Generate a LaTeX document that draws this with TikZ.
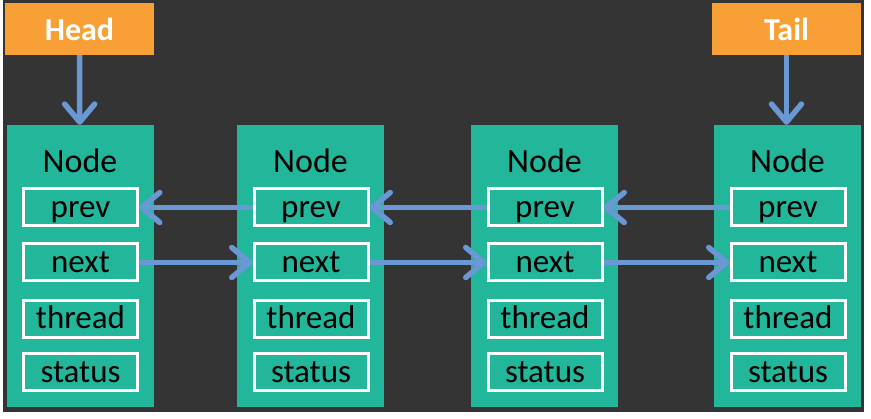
\documentclass[tikz,border=0pt]{standalone}
\usepackage{xcolor}
\usepackage{fontspec}
\setmainfont{Carlito}
\usepackage{tikz}
\usetikzlibrary{positioning, arrows.meta}

\definecolor{panelgray}{HTML}{343434}
\definecolor{nodeteal}{HTML}{22B79A}
\definecolor{ptrorange}{HTML}{F8A035}
\definecolor{linkblue}{HTML}{6A98D4}

\begin{document}
\begin{tikzpicture}[
    x=1pt, y=-1pt,
    lnode/.style={fill=nodeteal, minimum width=147pt, minimum height=282pt, inner sep=0pt},
    ltitle/.style={font=\fontsize{34}{34}\selectfont, text=black, inner sep=0pt},
    field/.style={draw=white, line width=3pt, fill=nodeteal, minimum width=114pt, minimum height=37pt, inner sep=0pt, font=\fontsize{33}{33}\selectfont, text height=22pt, text depth=2pt},
    ptr/.style={fill=ptrorange, minimum width=149pt, minimum height=52pt, inner sep=0pt, font=\bfseries\fontsize{32}{32}\selectfont, text=white},
    link/.style={draw=linkblue, line width=5.5pt, -{Straight Barb[length=18pt, width=30pt, line cap=round, line join=round]}}
]
\useasboundingbox (0,0) rectangle (871,419);
\fill[white] (0,0) rectangle (871,419);
\fill[panelgray] (3,0) rectangle (864,412);

% pointers
\node[ptr] (head) at (79.5, 29) {Head};
\node[ptr] (tail) at (786.5, 29) {Tail};

% list nodes
\node[lnode] (n1) at (80, 266) {};
\node[ltitle] (n1l) at (80, 161) {Node};
\node[field] (n1p) at (80.5, 207.5) {prev};
\node[field] (n1n) at (80.5, 262.5) {next};
\node[field] (n1t) at (80.5, 319) {thread};
\node[field] (n1s) at (80.5, 372.5) {status};

\node[lnode] (n2) at (310.5, 266) {};
\node[ltitle] (n2l) at (310.5, 161) {Node};
\node[field] (n2p) at (311, 207.5) {prev};
\node[field] (n2n) at (311, 262.5) {next};
\node[field] (n2t) at (311, 319) {thread};
\node[field] (n2s) at (311, 372.5) {status};

\node[lnode] (n3) at (544.5, 266) {};
\node[ltitle] (n3l) at (544.5, 161) {Node};
\node[field] (n3p) at (545, 207.5) {prev};
\node[field] (n3n) at (545, 262.5) {next};
\node[field] (n3t) at (545, 319) {thread};
\node[field] (n3s) at (545, 372.5) {status};

\node[lnode] (n4) at (787.5, 266) {};
\node[ltitle] (n4l) at (787.5, 161) {Node};
\node[field] (n4p) at (788, 207.5) {prev};
\node[field] (n4n) at (788, 262.5) {next};
\node[field] (n4t) at (788, 319) {thread};
\node[field] (n4s) at (788, 372.5) {status};

% links
\draw[link] (head) -- (n1);
\draw[link] (tail) -- (n4.north -| tail);
\draw[link] (n2p) -- (n1p);
\draw[link] (n3p) -- (n2p);
\draw[link] (n4p) -- (n3p);
\draw[link] (n1n) -- (n2n);
\draw[link] (n2n) -- (n3n);
\draw[link] (n3n) -- (n4n);
\end{tikzpicture}
\end{document}
